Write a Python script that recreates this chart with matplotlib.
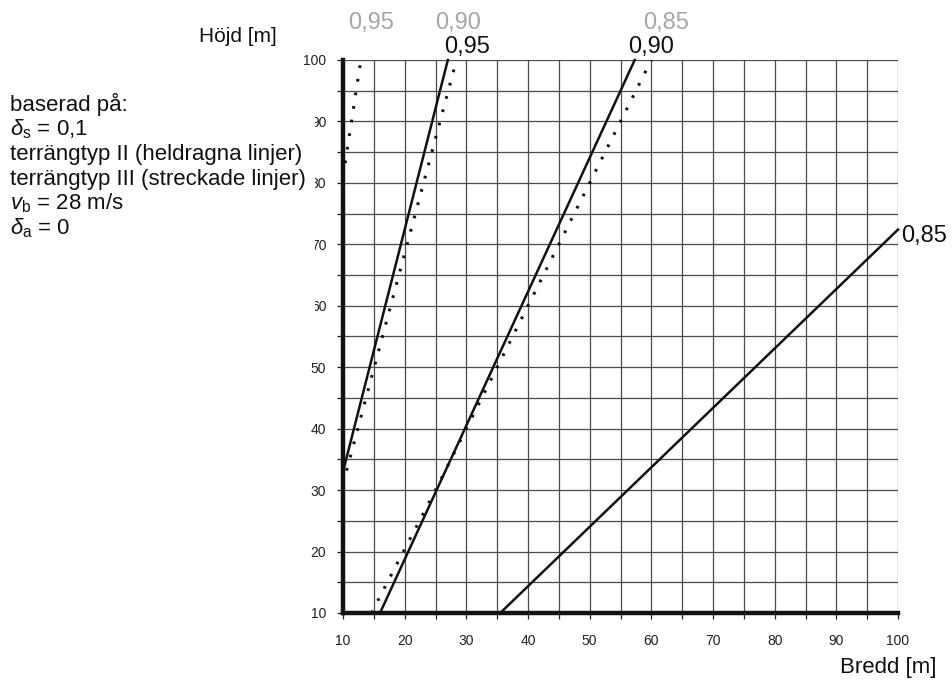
import matplotlib
matplotlib.use("Agg")
import matplotlib.pyplot as plt
from matplotlib.patches import Rectangle

plt.rcParams['font.family'] = ['Liberation Sans', 'DejaVu Sans']
plt.rcParams['mathtext.fontset'] = 'custom'
plt.rcParams['mathtext.rm'] = 'Liberation Sans'
plt.rcParams['mathtext.it'] = 'Liberation Sans:italic'

# terrängtyp II (heldragna linjer)
solid_095_x = [10, 27.0]
solid_095_y = [33, 100]
solid_090_x = [16.0, 57.3]
solid_090_y = [10, 100]
solid_085_x = [35.5, 100]
solid_085_y = [10, 72.4]

# terrängtyp III (streckade linjer)
dot_095_x = [10, 12.9]
dot_095_y = [81, 100]
dot_090_x = [10, 28.4]
dot_090_y = [31, 100]
dot_085_x = [14.6, 25.0, 60.0]
dot_085_y = [10, 30, 100]

info_lines = [
    "baserad på:",
    r"$\delta_{\rm s}$ = 0,1",
    "terrängtyp II (heldragna linjer)",
    "terrängtyp III (streckade linjer)",
    r"$v_{\rm b}$ = 28 m/s",
    r"$\delta_{\rm a}$ = 0",
]

fig = plt.figure(figsize=(9.52, 6.81), dpi=100)
ax = fig.add_axes([0.3603, 0.0999, 0.9433 - 0.3603, 0.9119 - 0.0999])

ax.set_xlim(10, 100)
ax.set_ylim(10, 100)
ax.set_xticks(range(10, 101, 5))
ax.set_yticks(range(10, 101, 5))
ax.set_xticklabels([str(v) if v % 10 == 0 else "" for v in range(10, 101, 5)])
ax.set_yticklabels([str(v) if v % 10 == 0 else "" for v in range(10, 101, 5)])
ax.grid(True, color='#4a4a4a', linewidth=0.9)
ax.set_axisbelow(True)
for s in ['top', 'right']:
    ax.spines[s].set_visible(False)
for s in ['left', 'bottom']:
    ax.spines[s].set_linewidth(3.2)
    ax.spines[s].set_color('#111111')
    ax.spines[s].set_zorder(5)
ax.tick_params(axis='x', length=4, width=0.9, pad=11.5, labelsize=10, colors='#222222')
ax.tick_params(axis='y', length=4, width=0.9, pad=8, labelsize=10, colors='#222222')

lc = '#111111'
ax.plot(solid_095_x, solid_095_y, color=lc, lw=1.8, clip_on=False)
ax.plot(solid_090_x, solid_090_y, color=lc, lw=1.8, clip_on=False)
ax.plot(solid_085_x, solid_085_y, color=lc, lw=1.8, clip_on=False)
dots = (0, (0.9, 3.6))
ax.plot(dot_095_x, dot_095_y, color=lc, lw=2.2, ls=dots)
ax.plot(dot_090_x, dot_090_y, color=lc, lw=2.2, ls=dots)
ax.plot(dot_085_x, dot_085_y, color=lc, lw=2.2, ls=dots)

# line labels
black_kw = dict(textcoords='offset pixels', fontsize=17, color='#111111',
                ha='center', va='center', annotation_clip=False)
ax.annotate("0,95", (solid_095_x[-1], solid_095_y[-1]), xytext=(19, 13), **black_kw)
ax.annotate("0,90", (solid_090_x[-1], solid_090_y[-1]), xytext=(16, 13), **black_kw)
ax.annotate("0,85", (solid_085_x[-1], solid_085_y[-1]), xytext=(26, -6), **black_kw)

gray_kw = dict(textcoords='offset pixels', fontsize=17, color='#a6a6a6',
               ha='center', va='center', annotation_clip=False)
ax.annotate("0,95", (dot_095_x[-1], dot_095_y[-1]), xytext=(10, 37), **gray_kw)
ax.annotate("0,90", (dot_090_x[-1], dot_090_y[-1]), xytext=(1.5, 37), **gray_kw)
ax.annotate("0,85", (dot_085_x[-1], dot_085_y[-1]), xytext=(15, 37), **gray_kw)

# white patch over part of the y tick labels, as in the original
fig.add_artist(Rectangle((0, 0.515), 0.3309, 0.36, transform=fig.transFigure,
                         facecolor='white', edgecolor='none', zorder=2))

baselines = [110.5, 135.3, 160.1, 184.9, 209.7, 234.5]
for txt, yb in zip(info_lines, baselines):
    fig.text(10 / 952, 1 - yb / 681, txt, fontsize=16, color='#111111',
             ha='left', va='baseline', zorder=3)

fig.text(277 / 952, 1 - 37 / 681, "Höjd [m]", fontsize=15, color='#111111',
         ha='right', va='center')
fig.text(937 / 952, 1 - 667 / 681, "Bredd [m]", fontsize=16, color='#111111',
         ha='right', va='center')

fig.savefig("out.png", dpi=100)
